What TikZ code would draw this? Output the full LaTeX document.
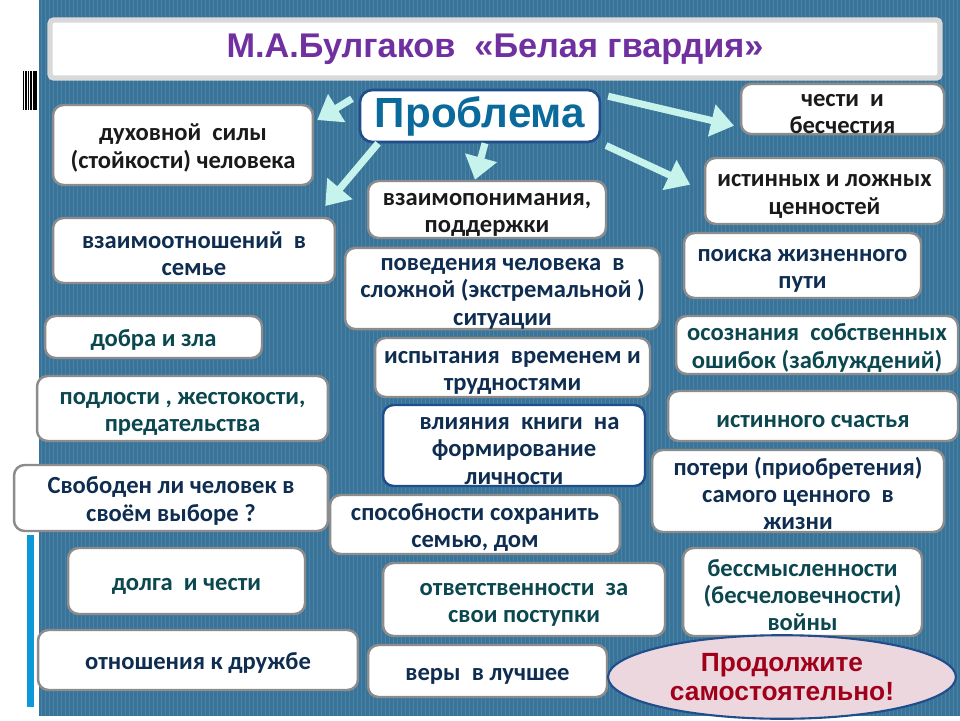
\documentclass[tikz,border=0pt]{standalone}
\usepackage{fontspec}
\setmainfont{Carlito}
\newfontfamily\headfont{Liberation Sans}
\usetikzlibrary{arrows.meta, shapes.geometric}

\definecolor{panel}{HTML}{3A7398}
\definecolor{stripe}{HTML}{4A83A9}
\definecolor{boxgray}{HTML}{8C8C8C}
\definecolor{txtnavy}{HTML}{0E2D50}
\definecolor{txtteal}{HTML}{0B474F}
\definecolor{txtdark}{HTML}{1A1A1A}
\definecolor{arrcyan}{HTML}{C6F4EC}
\definecolor{probblue}{HTML}{0A6A9C}
\definecolor{titlepurple}{HTML}{7030A0}
\definecolor{darkred}{HTML}{A0001A}
\definecolor{pinkfill}{HTML}{ECD7DF}
\definecolor{edgeblue}{HTML}{1F4E8C}
\definecolor{sidebar}{HTML}{0A9AD8}
\newcommand{\vstrut}{\rule{0pt}{13pt}}

\begin{document}
\begin{tikzpicture}[x=0.02cm, y=-0.02cm,
  box/.style={draw=boxgray, line width=1.4pt, fill=white, rounded corners=6pt, align=center,
    inner xsep=2pt, inner ysep=0pt, execute at begin node=\vstrut, text=txtnavy,
    font={\fontsize{14}{10}\selectfont\bfseries\baselineskip=15.5pt}},
  arr/.style={color=arrcyan, line width=4pt, -{Triangle[width=18pt,length=13pt]}}]

	% background panel
	\useasboundingbox (0,0) rectangle (960,720);
	\fill[white] (0,0) rectangle (960,720);
	\fill[panel] (39,0) rectangle (960,716);
	\foreach \x in {41,45,...,958} \draw[stripe, line width=0.5pt] (\x,0) -- (\x,716);
	\foreach \x/\w in {23.5/0.4,26/0.6,28.5/0.6,31/1.2,35/2.2} \draw[black, line width=\w pt] (\x,71) -- (\x,110);
	\fill[sidebar] (27,535) rectangle (34,707);

	% title and centre
	\node[draw=gray!30, line width=3pt, fill=white, rounded corners=2pt, minimum width=17.8cm, minimum height=1.16cm,
	  text=titlepurple, font=\headfont\bfseries\fontsize{19.5}{21}\selectfont] (title) at (495,49) {М.А.Булгаков \ «Белая гвардия»};
	\node[draw=edgeblue, line width=1.5pt, fill=white, rounded corners=7pt, minimum width=4.8cm, minimum height=1.04cm,
	  text=probblue, font=\headfont\bfseries\fontsize{24}{26}\selectfont] (prob) at (480,116) {Проблема};

	% left column
	\node[box, text=txtdark, minimum width=5.2cm, minimum height=1.6cm] (duh) at (183,145) {\vstrut духовной \ силы\\(стойкости) человека};
	\node[box, minimum width=5.64cm, minimum height=1.3cm] (vz) at (194,250.5) {\vstrut взаимоотношений \ в\\семье};
	\node[box, text=txtteal, minimum width=4.34cm, minimum height=0.84cm] (dobra) at (153.5,337) {добра и зла};
	\node[box, text=txtteal, minimum width=5.82cm, minimum height=1.3cm] (podl) at (182.5,408.5) {\vstrut подлости , жестокости,\\предательства};
	\node[box, minimum width=6.28cm, minimum height=1.32cm] (svob) at (171,498) {\vstrut Свободен ли человек в\\своём выборе ?};
	\node[box, text=txtteal, minimum width=4.74cm, minimum height=1.32cm] (dolga) at (186.5,581) {долга \ и чести};
	\node[box, minimum width=6.4cm, minimum height=1.2cm] (druzh) at (198,660) {отношения к дружбе};

	% middle column
	\node[box, text=txtdark, minimum width=4.76cm, minimum height=1.14cm] (vzp) at (487,209.5) {\vstrut взаимопонимания,\\поддержки};
	\node[box, minimum width=6.3cm, minimum height=1.62cm] (pov) at (502.5,288.5) {\vstrut поведения человека \ в\\сложной (экстремальной )\\ситуации};
	\node[box, minimum width=5.5cm, minimum height=1.18cm] (isp) at (512.5,367.5) {\vstrut испытания \ временем и\\трудностями};
	\node[box, draw=edgeblue, minimum width=5.24cm, minimum height=1.62cm] (vliy) at (514,445.5) {\vstrut\ \ влияния \ книги \ на\\формирование\\личности};
	\node[box, minimum width=5.8cm, minimum height=1.18cm] (sposob) at (475,524.5) {\vstrut способности сохранить\\семью, дом};
	\node[box, text=txtteal, minimum width=5.64cm, minimum height=1.46cm] (otv) at (524,599.5) {\vstrut ответственности \ за\\свои поступки};
	\node[box, minimum width=4.78cm, minimum height=1.04cm] (very) at (487.5,671) {веры \ в лучшее};

	% right column
	\node[box, text=txtdark, minimum width=4.06cm, minimum height=1.0cm] (chest) at (842.5,109) {\vstrut чести \ и\\бесчестия};
	\node[box, text=txtdark, minimum width=4.78cm, minimum height=1.32cm] (ist) at (824.5,191) {\vstrut истинных и ложных\\ценностей};
	\node[box, minimum width=4.74cm, minimum height=1.3cm] (poisk) at (802.5,265.5) {\vstrut поиска жизненного\\пути};
	\node[box, text=txtteal, minimum width=5.64cm, minimum height=1.16cm] (osozn) at (817,345) {\vstrut осознания \ собственных\\ошибок (заблуждений)};
	\node[box, text=txtteal, minimum width=5.8cm, minimum height=1.0cm] (schast) at (813,416) {истинного счастья};
	\node[box, minimum width=5.84cm, minimum height=1.64cm] (poteri) at (798,491) {\vstrut потери (приобретения)\\самого ценного \ в\\жизни};
	\node[box, text=txtteal, minimum width=4.78cm, minimum height=1.76cm] (bessm) at (802.5,592) {\vstrut бессмысленности\\(бесчеловечности)\\войны};
	\node[ellipse, draw=edgeblue, line width=1.2pt, fill=pinkfill, minimum width=6.96cm, minimum height=1.56cm, align=center,
	  text=darkred, font=\headfont\bfseries\fontsize{15}{16.5}\selectfont] (more) at (782,677) {Продолжите\\самостоятельно!};

	\path[arr]
	(prob.170) edge [shorten <=4.5pt, shorten >=2pt] (duh.10)
	(prob.195) edge [shorten >=8pt] ([xshift=-0.4cm]vz.north east)
	([xshift=0.1cm]prob.south) edge ([xshift=-0.24cm]vzp.north)
	(prob.10) edge [shorten <=4pt, shorten >=3.4pt] (chest.190)
	(prob.south east) edge [shorten <=3pt, shorten >=8.5pt] (ist.west);
\end{tikzpicture}
\end{document}
